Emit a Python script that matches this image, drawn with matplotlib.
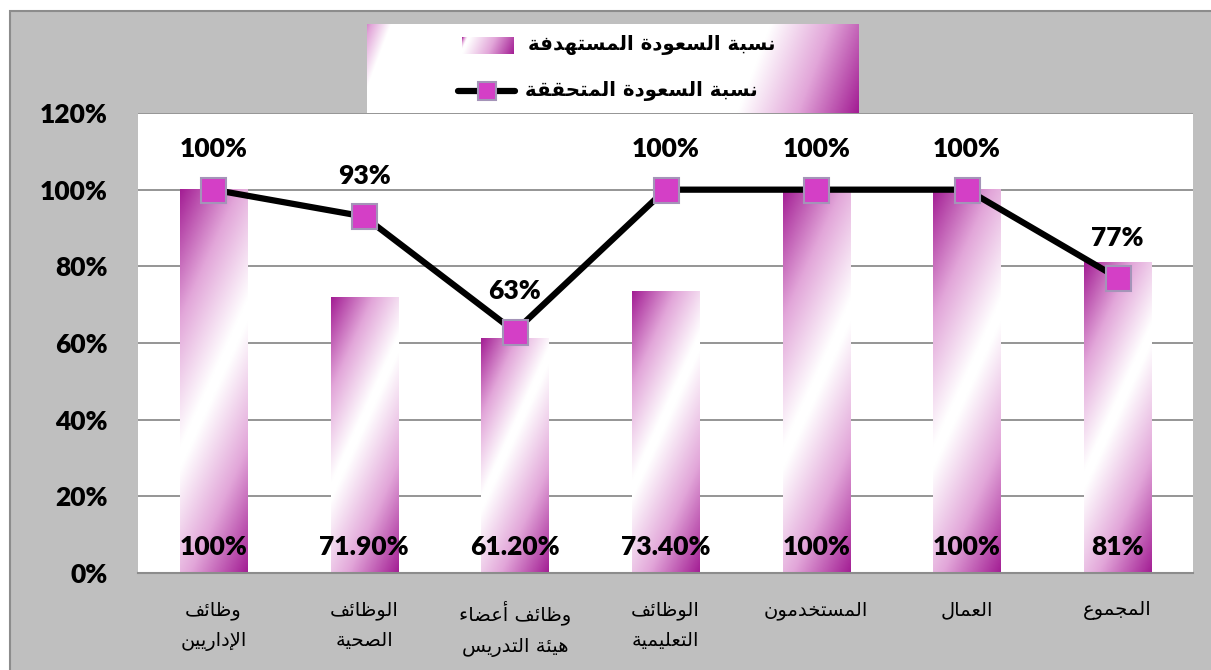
import matplotlib
matplotlib.use("Agg")
import matplotlib.pyplot as plt
from matplotlib.colors import LinearSegmentedColormap
from matplotlib.patches import Rectangle
import numpy as np

# data
categories = ["وظائف\nالإداريين", "الوظائف\nالصحية", "وظائف أعضاء\nهيئة التدريس",
              "الوظائف\nالتعليمية", "المستخدمون", "العمال", "المجموع"]
target = [1.00, 0.719, 0.612, 0.734, 1.00, 1.00, 0.81]
target_labels = ["100%", "71.90%", "61.20%", "73.40%", "100%", "100%", "81%"]
achieved = [1.00, 0.93, 0.63, 1.00, 1.00, 1.00, 0.77]
achieved_labels = ["100%", "93%", "63%", "100%", "100%", "100%", "77%"]
yticks = [0, 0.2, 0.4, 0.6, 0.8, 1.0, 1.2]
ytick_labels = ["0%", "20%", "40%", "60%", "80%", "100%", "120%"]
legend_target = "نسبة السعودة المستهدفة"
legend_achieved = "نسبة السعودة المتحققة"

# matplotlib has no arabic shaping -> use presentation forms and reverse
FORMS = {
    'ء': (0xFE80, 0), 'أ': (0xFE83, 1), 'إ': (0xFE87, 1), 'ئ': (0xFE89, 2),
    'ا': (0xFE8D, 1), 'ب': (0xFE8F, 2), 'ة': (0xFE93, 1), 'ت': (0xFE95, 2),
    'ج': (0xFE9D, 2), 'ح': (0xFEA1, 2), 'خ': (0xFEA5, 2), 'د': (0xFEA9, 1),
    'ر': (0xFEAD, 1), 'س': (0xFEB1, 2), 'ص': (0xFEB9, 2), 'ض': (0xFEBD, 2),
    'ظ': (0xFEC5, 2), 'ع': (0xFEC9, 2), 'ف': (0xFED1, 2), 'ق': (0xFED5, 2),
    'ل': (0xFEDD, 2), 'م': (0xFEE1, 2), 'ن': (0xFEE5, 2), 'ه': (0xFEE9, 2),
    'و': (0xFEED, 1), 'ي': (0xFEF1, 2),
    'لا': (0xFEFB, 1), 'لأ': (0xFEF7, 1), 'لإ': (0xFEF9, 1),
}


def shape_line(s):
    toks = []
    i = 0
    while i < len(s):
        if s[i] == 'ل' and i + 1 < len(s) and s[i + 1] in 'اأإ':
            toks.append(s[i:i + 2])
            i += 2
        else:
            toks.append(s[i])
            i += 1
    out = []
    for i, t in enumerate(toks):
        if t not in FORMS:
            out.append(t)
            continue
        base, kind = FORMS[t]
        prev = toks[i - 1] if i > 0 else None
        nxt = toks[i + 1] if i + 1 < len(toks) else None
        jp = kind >= 1 and prev in FORMS and FORMS[prev][1] == 2
        jn = kind == 2 and nxt in FORMS and FORMS[nxt][1] >= 1
        if jp and jn:
            off = 3
        elif jp:
            off = 1
        elif jn:
            off = 2
        else:
            off = 0
        out.append(chr(base + off))
    return ''.join(reversed(out))


def ar(s):
    return '\n'.join(shape_line(l) for l in s.split('\n'))


def gradient(w_px, h_px):
    xs = np.linspace(0, w_px, 80)
    ys = np.linspace(0, h_px, 300)
    X, Y = np.meshgrid(xs, ys)
    d = Y - (0.70 * h_px - 2.2 * X)
    up = np.clip(-d / (0.70 * h_px), 0, 1)
    down = np.clip(d / (0.30 * h_px + 2.2 * w_px), 0, 1)
    g = np.maximum(up, down)
    return np.clip((g - 0.04) / 0.96, 0, 1)


cmap = LinearSegmentedColormap.from_list("mag", ["#FFFFFF", "#E2A6D9", "#A31E94"])

W, H = 1211, 670
fig = plt.figure(figsize=(W / 100, H / 100), dpi=100)
fig.patch.set_facecolor("white")
fig.add_artist(Rectangle((10 / W, -0.01), 1.01, (H - 11) / H + 0.01, transform=fig.transFigure,
                         facecolor="#BFBFBF", edgecolor="#8C8C8C", linewidth=1.5, zorder=0))

ax = fig.add_axes([138 / W, (H - 573) / H, (1193 - 138) / W, (573 - 113) / H])
ax.set_facecolor("white")
x = np.arange(len(categories))
ax.set_xlim(-0.5, len(categories) - 0.5)
ax.set_ylim(0, 1.2)

p = ax.transData.transform([(0, 0), (1, 1)])
sx, sy = p[1, 0] - p[0, 0], p[1, 1] - p[0, 1]

bars = ax.bar(x, target, width=0.445, color="none", zorder=2)
for b in bars:
    x0, y0, bw, bh = b.get_x(), b.get_y(), b.get_width(), b.get_height()
    img = gradient(bw * sx, bh * sy)
    ax.imshow(img, cmap=cmap, vmin=0, vmax=1, extent=(x0, x0 + bw, y0, y0 + bh),
              origin="upper", aspect="auto", interpolation="bilinear", zorder=2)

ax.plot(x, achieved, color="black", lw=4.5, marker="s", markersize=18,
        markerfacecolor="#D43FC6", markeredgecolor="#A494B8", markeredgewidth=1.5,
        solid_joinstyle="round", zorder=4)

numfont = dict(family=["Lato", "DejaVu Sans"], weight="heavy", size=19)
for xi, v, lab in zip(x, achieved, achieved_labels):
    ax.annotate(lab, (xi, v), xytext=(0, 29), textcoords="offset points",
                ha="center", va="center", zorder=5, **numfont)
for xi, lab in zip(x, target_labels):
    ax.text(xi, 0.068, lab, ha="center", va="center", zorder=5, **numfont)

ax.set_yticks(yticks)
ax.set_yticklabels(ytick_labels, **numfont)
ax.set_xticks(x)
ax.set_xticklabels([ar(c) for c in categories], family="DejaVu Sans", size=14,
                   linespacing=1.75, va="top")
ax.tick_params(axis="y", length=0, pad=22)
ax.tick_params(axis="x", length=0, pad=20)
ax.grid(axis="y", color="#8C8C8C", lw=1.3, zorder=1)
ax.set_axisbelow(True)
for s in ["top", "left", "right"]:
    ax.spines[s].set_visible(False)
ax.spines["bottom"].set_color("#8C8C8C")
ax.spines["bottom"].set_linewidth(1.5)

# legend box drawn by hand (pixel coords inside the box)
lw_, lh_ = 491, 89
lax = fig.add_axes([367 / W, (H - 113) / H, lw_ / W, lh_ / H])
lax.axis("off")
LX, LY = np.meshgrid(np.linspace(0, lw_, 500), np.linspace(0, lh_, 90))
s_ = (89 * LX + 33 * LY) / 94.9
bg = np.maximum(np.clip((22 - s_) / 22 * 0.6, 0, 1), np.clip((s_ - 378) / 113, 0, 1))
lax.imshow(bg, cmap=cmap, vmin=0, vmax=1, extent=(0, lw_, lh_, 0), origin="upper",
           aspect="auto", interpolation="bilinear", zorder=0)
lax.imshow(gradient(51, 17), cmap=cmap, vmin=0, vmax=1, extent=(95, 146, 30, 13),
           origin="upper", aspect="auto", interpolation="bilinear", zorder=1)
lax.plot([91, 148], [67, 67], color="black", lw=4.5, solid_capstyle="round", zorder=1)
lax.plot([120], [67], marker="s", markersize=13.5, markerfacecolor="#D43FC6",
         markeredgecolor="#A494B8", markeredgewidth=1.5, zorder=2)
lax.text(408, 21, ar(legend_target), ha="right", va="center", family="DejaVu Sans",
         weight="bold", size=14.2, zorder=3)
lax.text(391, 67, ar(legend_achieved), ha="right", va="center", family="DejaVu Sans",
         weight="bold", size=14.2, zorder=3)
lax.set_xlim(0, lw_)
lax.set_ylim(lh_, 0)

fig.savefig("out.png", dpi=100)
